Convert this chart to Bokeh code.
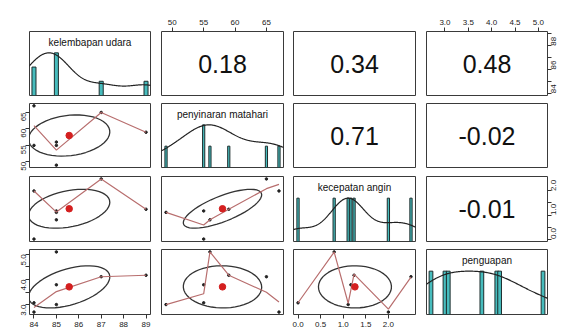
import math
import numpy as np
from bokeh.plotting import figure
from bokeh.layouts import gridplot
from bokeh.models import Range1d, FixedTicker, LinearAxis
from bokeh.core.properties import value
from bokeh.embed import file_html
from bokeh.resources import INLINE

# ---------------- data ----------------
var_names = ["kelembapan udara", "penyinaran matahari", "kecepatan angin", "penguapan"]
kelembapan_udara = [84, 84, 85, 85, 85, 87, 89]
penyinaran_matahari = [67, 55, 56, 55, 49, 65, 59]
kecepatan_angin = [2.0, 0.0, 0.8, 1.17, 1.11, 2.5, 1.24]
penguapan = [2.7, 3.07, 5.1, 3.79, 3.0, 4.11, 4.17]

corr_rows = [0, 0, 0, 1, 1, 2]
corr_cols = [1, 2, 3, 2, 3, 3]
corr_text = ["0.18", "0.34", "0.48", "0.71", "-0.02", "-0.01"]

ticks_kel = [84, 85, 86, 87, 88, 89]
labels_kel_bottom = ["84", "85", "86", "87", "88", "89"]
labels_kel_side = ["84", "", "86", "", "88", ""]
ticks_pen = [50, 55, 60, 65]
labels_pen = ["50", "55", "60", "65"]
ticks_kec = [0.0, 0.5, 1.0, 1.5, 2.0]
labels_kec_bottom = ["0.0", "0.5", "1.0", "1.5", "2.0"]
labels_kec_side = ["0.0", "", "1.0", "", "2.0"]
ticks_pgp = [3.0, 3.5, 4.0, 4.5, 5.0]
labels_pgp_top = ["3.0", "3.5", "4.0", "4.5", "5.0"]
labels_pgp_side = ["3.0", "", "4.0", "", "5.0"]

# ---------------- styles / layout ----------------
bar_widths = [0.18, 0.35, 0.05, 0.08]
col_left = [29, 6, 5, 6]
col_frame = [121, 122, 122, 121]
col_right = [5, 5, 5, 17]
row_top = [31, 4, 5, 4]
row_frame = [64, 64, 65, 65]
row_bottom = [4, 4, 4, 18]
FONT = "Liberation Sans"
HIST_FILL = "#47bcbd"
HIST_LINE = "#1d2d2d"
SMOOTH_COL = "#b86e6e"
ELLIPSE_COL = "#333333"
MEAN_COL = "#d41f1f"

data = [kelembapan_udara, penyinaran_matahari, kecepatan_angin, penguapan]


def ext_range(v):
    lo, hi = min(v), max(v)
    d = 0.04 * (hi - lo)
    return lo - d, hi + d


# ---------------- R-like lowess ----------------
def _lowest(x, y, n, xs, nleft, nright, w, userw, rw):
    rng = x[n - 1] - x[0]
    h = max(xs - x[nleft], x[nright] - xs)
    h9 = 0.999 * h
    h1 = 0.001 * h
    a = 0.0
    j = nleft
    while j < n:
        w[j] = 0.0
        r = abs(x[j] - xs)
        if r <= h9:
            if r <= h1:
                w[j] = 1.0
            else:
                w[j] = (1.0 - (r / h) ** 3) ** 3
            if userw:
                w[j] *= rw[j]
            a += w[j]
        elif x[j] > xs:
            break
        j += 1
    nrt = j - 1
    if a <= 0.0:
        return 0.0, False
    for j in range(nleft, nrt + 1):
        w[j] /= a
    if h > 0.0:
        a = sum(w[j] * x[j] for j in range(nleft, nrt + 1))
        b = xs - a
        c = sum(w[j] * (x[j] - a) ** 2 for j in range(nleft, nrt + 1))
        if math.sqrt(c) > 0.001 * rng:
            b /= c
            for j in range(nleft, nrt + 1):
                w[j] *= (b * (x[j] - a) + 1.0)
    return sum(w[j] * y[j] for j in range(nleft, nrt + 1)), True


def lowess(xv, yv, f=2.0 / 3.0, nsteps=3):
    order = np.argsort(np.asarray(xv, float), kind="stable")
    x = np.asarray(xv, float)[order]
    y = np.asarray(yv, float)[order]
    n = len(x)
    delta = 0.01 * (x[-1] - x[0])
    ns = max(min(int(f * n + 1e-7), n), 2)
    ys = np.zeros(n)
    rw = np.zeros(n)
    w = np.zeros(n)
    it = 1
    while it <= nsteps + 1:
        nleft, nright, last, i = 0, ns - 1, -1, 0
        while True:
            while nright < n - 1:
                d1 = x[i] - x[nleft]
                d2 = x[nright + 1] - x[i]
                if d1 <= d2:
                    break
                nleft += 1
                nright += 1
            val, ok = _lowest(x, y, n, x[i], nleft, nright, w, it > 1, rw)
            ys[i] = val if ok else y[i]
            if last < i - 1:
                denom = x[i] - x[last]
                for j in range(last + 1, i):
                    alpha = (x[j] - x[last]) / denom
                    ys[j] = alpha * ys[i] + (1 - alpha) * ys[last]
            last = i
            cut = x[last] + delta
            i = last + 1
            while i < n:
                if x[i] > cut:
                    break
                if x[i] == x[last]:
                    ys[i] = ys[last]
                    last = i
                i += 1
            i = max(last + 1, i - 1)
            if last >= n - 1:
                break
        res = y - ys
        sc = np.sum(np.abs(res)) / n
        if it > nsteps:
            break
        cmad = 6.0 * np.median(np.abs(res))
        if cmad < 1e-7 * sc:
            break
        c9, c1 = 0.999 * cmad, 0.001 * cmad
        r = np.abs(res)
        rw = np.where(r <= c1, 1.0, np.where(r <= c9, (1 - (r / cmad) ** 2) ** 2, 0.0))
        it += 1
    return x, ys


def density_nrd(v, npts=512):
    v = np.asarray(v, float)
    q1, q3 = np.quantile(v, [0.25, 0.75])
    bw = 1.06 * min(np.std(v, ddof=1), (q3 - q1) / 1.34) * len(v) ** (-0.2)
    xs = np.linspace(v.min() - 3 * bw, v.max() + 3 * bw, npts)
    ds = np.exp(-0.5 * ((xs[:, None] - v[None, :]) / bw) ** 2).sum(axis=1)
    return xs, ds / ds.max()


def ellipse_pts(xv, yv, segments=51):
    xv = np.asarray(xv, float)
    yv = np.asarray(yv, float)
    xm, ym = xv.mean(), yv.mean()
    xs, ys = xv.std(ddof=1), yv.std(ddof=1)
    r = np.corrcoef(xv, yv)[0, 1]
    theta = (np.sign(r) if abs(r) > 0 else 1.0) / math.sqrt(2)
    ang = np.arange(segments + 1) * 2 * math.pi / segments
    c, s = np.cos(ang), np.sin(ang)
    a1, a2 = math.sqrt(1 + r), math.sqrt(1 - r)
    ex = c * a1 * theta - s * a2 * theta
    ey = c * a1 * theta + s * a2 * theta
    return ex * xs + xm, ey * ys + ym, xm, ym


def add_axis(p, side, ticks, labels):
    ax = LinearAxis(ticker=FixedTicker(ticks=ticks))
    ax.major_label_overrides = {t: l for t, l in zip(ticks, labels)}
    ax.axis_line_color = None
    ax.major_tick_line_color = "#333333"
    ax.major_tick_out = 4
    ax.major_tick_in = 0
    ax.minor_tick_line_color = None
    ax.major_label_text_font = FONT
    ax.major_label_text_font_size = "8px"
    ax.major_label_text_color = "#1a1a1a"
    ax.major_label_standoff = 3 if side in ("above", "below") else 2
    if side in ("left", "right"):
        ax.major_label_orientation = math.pi / 2
    p.add_layout(ax, side)


axis_spec = {
    (0, 1): [("above", ticks_pen, labels_pen)],
    (0, 3): [("above", ticks_pgp, labels_pgp_top), ("right", ticks_kel, labels_kel_side)],
    (1, 0): [("left", ticks_pen, labels_pen)],
    (2, 3): [("right", ticks_kec, labels_kec_side)],
    (3, 0): [("left", ticks_pgp, labels_pgp_side), ("below", ticks_kel, labels_kel_bottom)],
    (3, 2): [("below", ticks_kec, labels_kec_bottom)],
}

rows = []
for i in range(4):
    row = []
    for j in range(4):
        xr = ext_range(data[j])
        yr = (0.0, 1.5) if i == j else ext_range(data[i])
        p = figure(
            width=col_left[j] + col_frame[j] + col_right[j],
            height=row_top[i] + row_frame[i] + row_bottom[i],
            x_range=Range1d(*xr), y_range=Range1d(*yr),
            output_backend="svg", toolbar_location=None,
            x_axis_location=None, y_axis_location=None,
            min_border_left=col_left[j], min_border_right=col_right[j],
            min_border_top=row_top[i], min_border_bottom=row_bottom[i],
            outline_line_color="#3a3a3a", outline_line_width=1,
            background_fill_color="white", border_fill_color="white",
        )
        p.grid.visible = False
        if i == j:
            v = data[i]
            uniq, cnt = np.unique(np.asarray(v, float), return_counts=True)
            p.vbar(x=list(uniq), top=list(cnt / cnt.max()), bottom=0, width=bar_widths[i],
                   fill_color=HIST_FILL, line_color=HIST_LINE, line_width=1)
            dx, dy = density_nrd(v)
            p.line(list(dx), list(dy), line_color="#222222", line_width=1.2)
            p.text(x=[(xr[0] + xr[1]) / 2], y=[1.5 * 0.83], text=[var_names[i]],
                   text_font=value(FONT), text_font_size="10px", text_color="#111111",
                   text_align="center", text_baseline="middle")
        elif i < j:
            k = [n for n in range(len(corr_text)) if corr_rows[n] == i and corr_cols[n] == j][0]
            p.text(x=[(xr[0] + xr[1]) / 2], y=[(yr[0] + yr[1]) / 2], text=[corr_text[k]],
                   text_font=value(FONT), text_font_size="25px", text_color="#111111",
                   text_align="center", text_baseline="middle")
        else:
            xv, yv = data[j], data[i]
            p.scatter(xv, yv, size=2.5, color="#222222")
            ex, ey, xm, ym = ellipse_pts(xv, yv)
            p.line(list(ex), list(ey), line_color=ELLIPSE_COL, line_width=1.3)
            lx, ly = lowess(xv, yv)
            p.line(list(lx), list(ly), line_color=SMOOTH_COL, line_width=1.2)
            p.scatter([xm], [ym], size=6.5, color=MEAN_COL)
        for side, t, l in axis_spec.get((i, j), []):
            add_axis(p, side, t, l)
        row.append(p)
    rows.append(row)

grid = gridplot(rows, toolbar_location=None)
open("out.html", "w").write(file_html(grid, INLINE))
